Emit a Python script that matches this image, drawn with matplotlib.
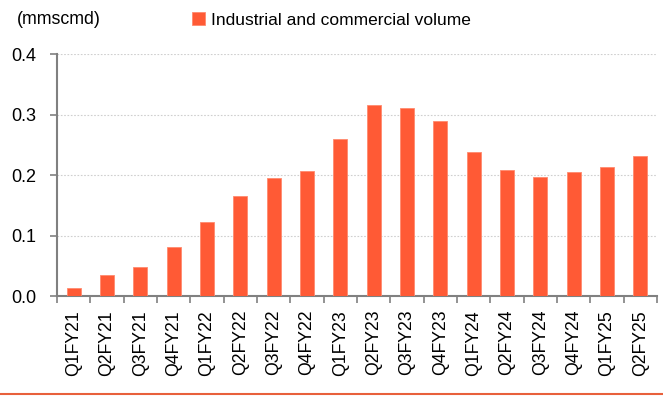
import matplotlib
matplotlib.use("Agg")
import matplotlib.pyplot as plt
from matplotlib.lines import Line2D
import numpy as np

plt.rcParams['font.family'] = ['Liberation Sans', 'DejaVu Sans']

categories = ["Q1FY21", "Q2FY21", "Q3FY21", "Q4FY21", "Q1FY22", "Q2FY22",
              "Q3FY22", "Q4FY22", "Q1FY23", "Q2FY23", "Q3FY23", "Q4FY23",
              "Q1FY24", "Q2FY24", "Q3FY24", "Q4FY24", "Q1FY25", "Q2FY25"]
volume = [0.013, 0.034, 0.048, 0.081, 0.122, 0.166, 0.195, 0.207, 0.260,
          0.315, 0.311, 0.289, 0.238, 0.209, 0.197, 0.205, 0.214, 0.232]
series_label = "Industrial and commercial volume"
unit_label = "(mmscmd)"
yticks = [0.0, 0.1, 0.2, 0.3, 0.4]

bar_color = "#FF5A35"
spine_color = "#808080"

fig = plt.figure(figsize=(6.63, 3.96), dpi=100)
ax = fig.add_axes([0.086, 0.2525, 0.905, 0.611])

x = np.arange(len(categories))
ax.bar(x, volume, width=0.42, color=bar_color, edgecolor="#FF8A6E",
       linewidth=0.6, label=series_label, zorder=3)

ax.set_xlim(-0.5, len(categories) - 0.5)
ax.set_ylim(0, 0.4)
ax.set_yticks(yticks)
ax.set_yticklabels([f"{v:.1f}" for v in yticks], fontsize=13)
ax.set_xticks(x)
ax.set_xticklabels(categories, rotation=90, fontsize=12.7)
ax.set_xticks(np.arange(len(categories) + 1) - 0.5, minor=True)
ax.tick_params(axis='x', which='major', length=0, pad=10)
ax.tick_params(axis='x', which='minor', length=5, width=1.2, color=spine_color, direction='out')
ax.tick_params(axis='y', which='major', length=5, width=1.2, color=spine_color, direction='out', pad=10)

for v in yticks[1:]:
    ax.axhline(v, color="#cfcfcf", linestyle=(0, (1.5, 1.5)), linewidth=0.8, zorder=1)

for s in ("top", "right"):
    ax.spines[s].set_visible(False)
for s in ("left", "bottom"):
    ax.spines[s].set_color(spine_color)
    ax.spines[s].set_linewidth(1.5)

fig.text(0.026, 0.95, unit_label, fontsize=12.8, va="center", ha="left")
fig.legend(loc="center left", bbox_to_anchor=(192 / 663, 0.95), frameon=False,
           fontsize=12.5, handlelength=0.75, handleheight=0.75, handletextpad=0.35,
           borderpad=0, borderaxespad=0)

fig.add_artist(Line2D([0, 1], [0.004, 0.004], color="#E8603C", linewidth=1.5,
                      transform=fig.transFigure))

fig.savefig("out.png", dpi=100)
